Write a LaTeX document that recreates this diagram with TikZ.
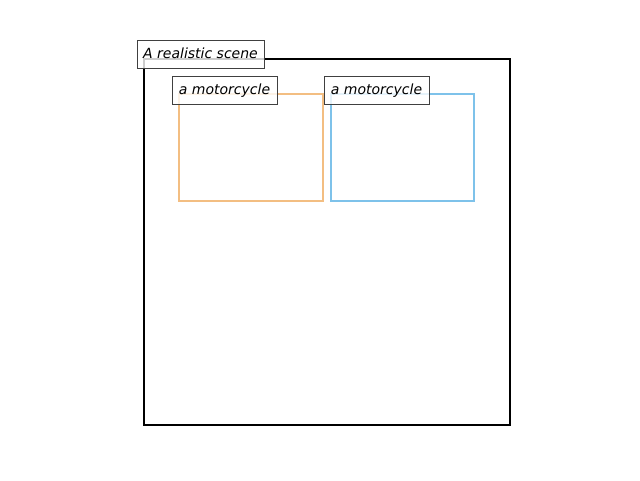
\documentclass[tikz,border=0pt]{standalone}
\usepackage{fontspec}
\setmainfont{DejaVu Sans}
\definecolor{boxorange}{RGB}{243,190,130}
\definecolor{boxblue}{RGB}{126,194,234}
\definecolor{lblgray}{RGB}{64,64,64}
\begin{document}
\begin{tikzpicture}[x=0.75pt,y=-0.75pt,
  scenebox/.style={draw=black,line width=1.8pt},
  objbox/.style={line width=2pt},
  lbl/.style={draw=lblgray,line width=0.75pt,fill=white,fill opacity=0.8,text opacity=1,
    inner sep=0pt,minimum height=21pt,text height=9.5pt,text depth=2.5pt,
    font=\fontsize{10.5}{12}\selectfont\itshape},
]
\useasboundingbox (0,0) rectangle (640,480);
\draw[scenebox] (144,59) rectangle (510,425);
\draw[objbox,draw=boxorange] (179,94) rectangle (323,201);
\draw[objbox,draw=boxblue] (331,94) rectangle (474,201);
\node[lbl,minimum width=95.25pt] (scene) at (200.5,54) {A realistic scene};
\node[lbl,minimum width=78.75pt] (m1) at (224.5,90) {a motorcycle};
\node[lbl,minimum width=78.75pt] (m2) at (376.5,90) {a motorcycle};
\end{tikzpicture}
\end{document}
